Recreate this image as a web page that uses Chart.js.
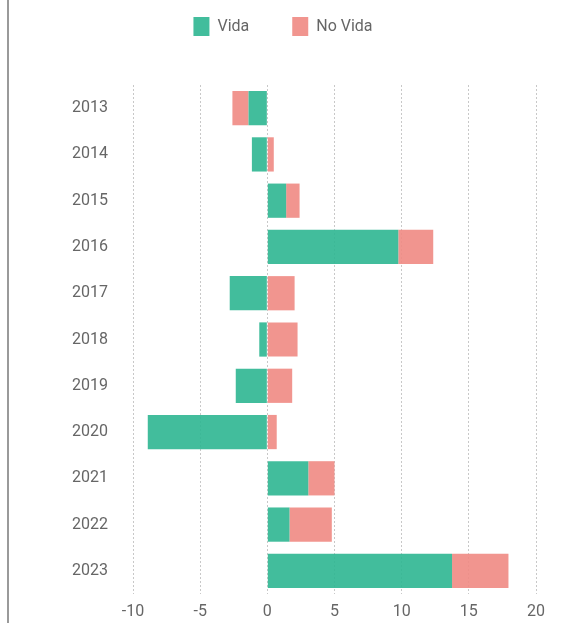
<!DOCTYPE html>
<html>
<head>
<meta charset="utf-8">
<script src="https://cdn.jsdelivr.net/npm/chart.js@4.4.1/dist/chart.umd.min.js"></script>
<style>
  html, body { margin: 0; padding: 0; background: #fff; }
  #wrap { position: relative; width: 575px; height: 623px; }
  #edge { position: absolute; left: 7px; top: 0; width: 2px; height: 623px; background: #9a9a9a; }
  canvas { position: absolute; left: 0; top: 0; }
</style>
</head>
<body>
<div id="wrap">
  <div id="edge"></div>
  <canvas id="c" width="575" height="623"></canvas>
</div>
<script>
const categories = ['2013','2014','2015','2016','2017','2018','2019','2020','2021','2022','2023'];
const vida   = [-1.4, -1.15, 1.4, 9.75, -2.8, -0.6, -2.35, -8.9, 3.05, 1.65, 13.75];
const noVida = [-1.2,  0.48, 1.0, 2.6,   2.03, 2.25, 1.85,  0.7, 1.95, 3.15, 4.2];
const xTicks = [-10, -5, 0, 5, 10, 15, 20];

const legendSpace = {
  id: 'legendSpace',
  beforeInit(chart) {
    const lg = chart.legend;
    if (!lg) return;
    const orig = lg.fit;
    lg.fit = function () {
      orig.call(this);
      this.height += 39;
    };
  }
};

new Chart(document.getElementById('c'), {
  type: 'bar',
  data: {
    labels: categories,
    datasets: [
      { label: 'Vida', data: vida, backgroundColor: 'rgba(45,182,145,0.9)', borderWidth: 0 },
      { label: 'No Vida', data: noVida, backgroundColor: 'rgba(239,138,131,0.9)', borderWidth: 0 }
    ]
  },
  options: {
    indexAxis: 'y',
    responsive: false,
    animation: false,
    datasets: { bar: { categoryPercentage: 0.74, barPercentage: 1.0 } },
    layout: { padding: { top: -26, right: 39, left: 30, bottom: 0 } },
    plugins: {
      legend: {
        position: 'top',
        align: 'center',
        labels: {
          boxWidth: 16, boxHeight: 19, padding: 43,
          color: '#666', font: { family: 'Roboto', size: 16 }
        }
      },
      tooltip: { enabled: false }
    },
    scales: {
      x: {
        stacked: true,
        min: -10, max: 20,
        afterBuildTicks(scale) { scale.ticks = xTicks.map(v => ({ value: v })); },
        afterFit(scale) { scale.height = 29; },
        grid: { color: '#c8c8c8', lineWidth: 1, drawTicks: false },
        border: { display: false, dash: [2, 2] },
        ticks: { padding: 8, color: '#666', font: { family: 'Roboto', size: 16 } }
      },
      y: {
        stacked: true,
        afterFit(scale) { scale.width = 103; scale.paddingTop = 0; scale.paddingBottom = 0; },
        grid: { display: false, drawTicks: false },
        border: { display: false },
        ticks: { padding: 25, color: '#666', font: { family: 'Roboto', size: 16 } }
      }
    }
  },
  plugins: [legendSpace]
});
</script>
</body>
</html>
